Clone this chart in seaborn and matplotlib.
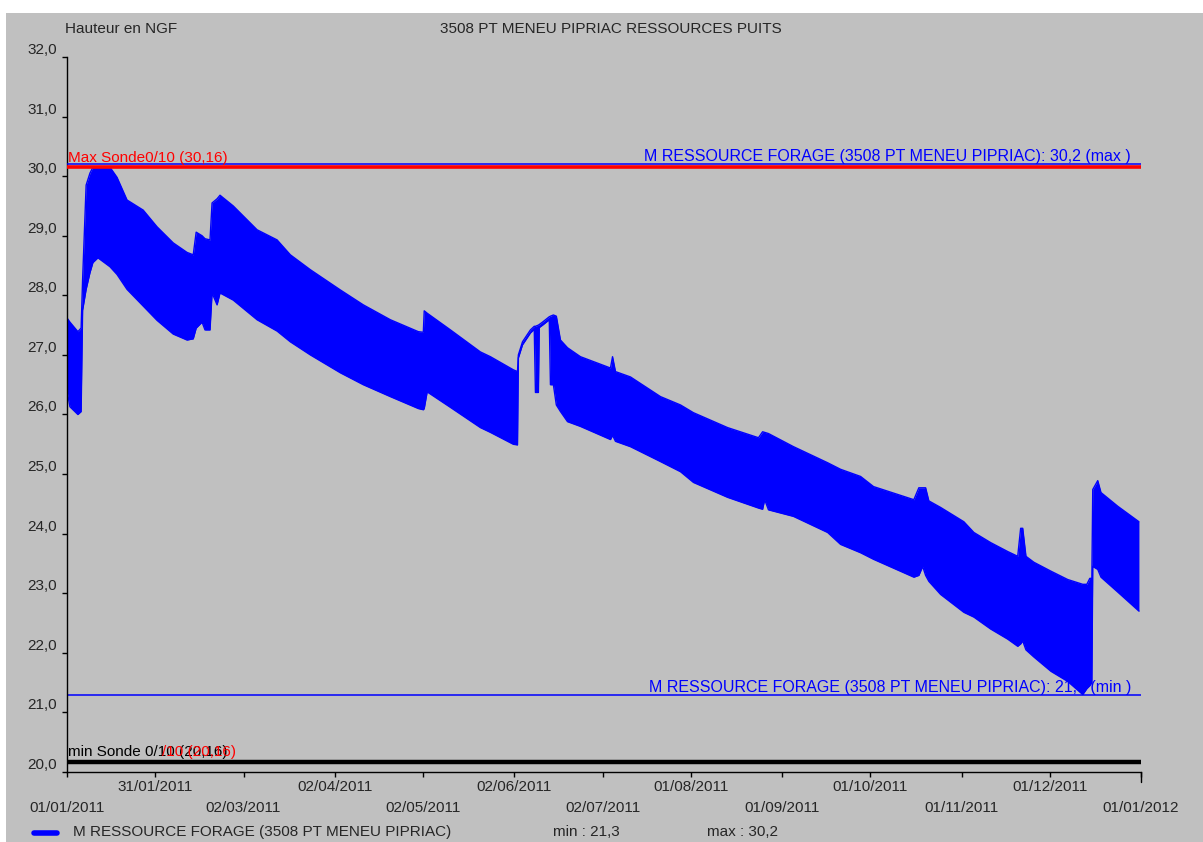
import pandas as pd
import matplotlib
matplotlib.use("Agg")
import matplotlib.pyplot as plt
import matplotlib.dates as mdates
from matplotlib.lines import Line2D
from matplotlib.patches import Rectangle
from matplotlib.transforms import blended_transform_factory
import seaborn as sns

# Envelope of the daily oscillation
# (days since 01/01/2011, water level in m NGF)
day_offset = [0.0, 1.0, 3.7, 4.8, 5.3, 6.5, 7.8, 8.8, 10.5, 14.6,
              17.0, 20.4, 25.9, 30.6, 36.1, 40.8, 42.9, 43.9, 45.9, 46.9,
              48.6, 49.3, 51.0, 52.0, 56.5, 64.6, 71.4, 75.9, 82.7, 92.9,
              100.7, 109.9, 119.4, 121.1, 121.4, 122.4, 130.3, 140.5, 143.9, 151.7,
              153.1, 153.4, 154.8, 157.5, 158.8, 159.2, 160.2, 160.5, 161.6, 163.9,
              164.3, 165.3, 166.3, 167.7, 170.1, 174.5, 184.7, 185.4, 186.4, 191.5,
              201.7, 208.5, 212.9, 224.5, 235.0, 236.4, 237.1, 238.4, 246.9, 258.5,
              262.9, 269.7, 274.1, 287.8, 289.5, 290.8, 291.8, 292.9, 296.9, 304.8,
              308.2, 313.9, 319.7, 323.1, 324.1, 324.8, 325.9, 328.6, 334.4, 340.1,
              345.2, 346.6, 347.6, 348.3, 348.6, 350.3, 351.4, 357.1, 364.3]
upper_level = [27.62, 27.55, 27.39, 27.45, 28.26, 29.85, 30.05, 30.15, 30.15, 30.15,
               29.98, 29.60, 29.43, 29.15, 28.88, 28.72, 28.68, 29.06, 29.00, 28.95,
               28.93, 29.55, 29.62, 29.68, 29.50, 29.10, 28.93, 28.68, 28.43, 28.09,
               27.84, 27.59, 27.39, 27.38, 27.74, 27.70, 27.42, 27.05, 26.97, 26.75,
               26.72, 27.00, 27.22, 27.42, 27.48, 27.48, 27.50, 27.51, 27.55, 27.64,
               27.65, 27.67, 27.65, 27.25, 27.12, 26.97, 26.78, 26.97, 26.72, 26.63,
               26.30, 26.16, 26.03, 25.78, 25.61, 25.71, 25.70, 25.68, 25.46, 25.19,
               25.08, 24.96, 24.79, 24.57, 24.77, 24.77, 24.77, 24.55, 24.44, 24.20,
               24.02, 23.85, 23.70, 23.62, 24.09, 24.09, 23.62, 23.52, 23.37, 23.23,
               23.15, 23.15, 23.25, 23.25, 24.74, 24.89, 24.69, 24.46, 24.20]
lower_level = [26.40, 26.13, 26.00, 26.05, 27.75, 28.10, 28.38, 28.55, 28.63, 28.48,
               28.35, 28.10, 27.82, 27.58, 27.35, 27.25, 27.27, 27.45, 27.55, 27.42,
               27.42, 28.04, 27.84, 28.04, 27.92, 27.59, 27.40, 27.22, 27.00, 26.70,
               26.50, 26.30, 26.10, 26.08, 26.10, 26.38, 26.12, 25.78, 25.70, 25.50,
               25.49, 26.95, 27.17, 27.37, 27.43, 26.37, 26.37, 27.46, 27.50, 27.59,
               26.50, 26.50, 26.16, 26.05, 25.88, 25.80, 25.58, 25.65, 25.55, 25.46,
               25.21, 25.04, 24.86, 24.61, 24.43, 24.41, 24.57, 24.40, 24.29, 24.02,
               23.82, 23.68, 23.57, 23.27, 23.30, 23.45, 23.30, 23.20, 22.98, 22.68,
               22.60, 22.40, 22.23, 22.11, 22.15, 22.20, 22.05, 21.93, 21.69, 21.52,
               21.30, 21.40, 21.45, 21.50, 23.45, 23.40, 23.27, 23.02, 22.70]

series_name = "M RESSOURCE FORAGE (3508 PT MENEU PIPRIAC)"
chart_title = "3508 PT MENEU PIPRIAC RESSOURCES PUITS"
series_max = 30.2
series_min = 21.3
sonde_max = 30.16
sonde_min = 20.16

y_ticks = [20, 21, 22, 23, 24, 25, 26, 27, 28, 29, 30, 31, 32]
y_tick_labels = ["20,0", "21,0", "22,0", "23,0", "24,0", "25,0", "26,0",
                 "27,0", "28,0", "29,0", "30,0", "31,0", "32,0"]
tick_dates = ["2011-01-01", "2011-01-31", "2011-03-02", "2011-04-02", "2011-05-02",
              "2011-06-02", "2011-07-02", "2011-08-01", "2011-09-01", "2011-10-01",
              "2011-11-01", "2011-12-01", "2012-01-01"]
tick_labels = ["01/01/2011", "31/01/2011", "02/03/2011", "02/04/2011", "02/05/2011",
               "02/06/2011", "02/07/2011", "01/08/2011", "01/09/2011", "01/10/2011",
               "01/11/2011", "01/12/2011", "01/01/2012"]


def fr(v):
    return f"{v:g}".replace(".", ",")


df = pd.DataFrame({
    "date": pd.Timestamp("2011-01-01") + pd.to_timedelta(day_offset, unit="D"),
    "upper": upper_level,
    "lower": lower_level,
})

sns.set_style("white")
plt.rcParams["font.family"] = ["Liberation Sans", "DejaVu Sans"]
plt.rcParams["font.size"] = 11

W, H = 1203, 842
gray = "#c0c0c0"
blue = "#0000ff"
red = "#ff0000"

fig = plt.figure(figsize=(W / 100, H / 100), dpi=100, facecolor=gray)
fig.add_artist(Rectangle((0, 1 - 13 / H), 1, 13 / H, transform=fig.transFigure,
                         facecolor="white", edgecolor="none", zorder=-5))
fig.add_artist(Rectangle((0, 0), 6 / W, 1, transform=fig.transFigure,
                         facecolor="white", edgecolor="none", zorder=-5))

ax = fig.add_axes([67 / W, 1 - 772 / H, (1141 - 67) / W, (772 - 57) / H])
ax.set_facecolor("none")

# the band of daily oscillations
ax.fill_between(df["date"], df["lower"], df["upper"], color=blue, lw=0, zorder=2)
sns.lineplot(data=df, x="date", y="upper", color=blue, lw=1, ax=ax, zorder=2)
sns.lineplot(data=df, x="date", y="lower", color=blue, lw=1, ax=ax, zorder=2)

# reference lines
ax.axhline(sonde_max, color=red, lw=2.6, zorder=3)
ax.axhline(series_max, color=blue, lw=1.1, zorder=3)
ax.axhline(series_min, color=blue, lw=1.1, zorder=1)
ax.axhline(sonde_min, color="black", lw=3.2, zorder=3)

x_start = mdates.date2num(pd.Timestamp(tick_dates[0]))
x_end = mdates.date2num(pd.Timestamp(tick_dates[-1]))
ax.set_xlim(x_start, x_end)
ax.set_ylim(20, 32)
ax.set_xlabel("")
ax.set_ylabel("")

# longer end mark on the right of the time axis
ax.axvline(x_end, ymin=-0.014, ymax=0, color="black", lw=1, clip_on=False)

for side in ["top", "right"]:
    ax.spines[side].set_visible(False)
for side in ["left", "bottom"]:
    ax.spines[side].set_color("black")
    ax.spines[side].set_linewidth(1)

ax.set_yticks(y_ticks)
ax.set_yticklabels(y_tick_labels, va="bottom")
ax.tick_params(axis="y", direction="out", length=3.6, width=1, color="black",
               pad=3.5, labelsize=11, left=True)

tick_num = mdates.date2num(pd.to_datetime(tick_dates))
ax.set_xticks(tick_num[1::2])
ax.set_xticklabels(tick_labels[1::2])
ax.set_xticks(tick_num[0::2], minor=True)
ax.set_xticklabels(tick_labels[0::2], minor=True)
ax.tick_params(axis="x", which="both", direction="out", length=3.6, width=1,
               color="black", labelsize=11, bottom=True)
ax.tick_params(axis="x", which="major", pad=2)
ax.tick_params(axis="x", which="minor", pad=17.5)

# labels on the reference lines
trans = blended_transform_factory(ax.transAxes, ax.transData)
ax.annotate("Max Sonde0/10 (30,16)", xy=(0.001, sonde_max), xycoords=trans,
            xytext=(0, 1), textcoords="offset points", color=red, va="bottom",
            ha="left", fontsize=11, zorder=4)
ax.annotate(f"{series_name}: {fr(series_max)} (max )", xy=(0.9907, series_max),
            xycoords=trans, xytext=(0, 0), textcoords="offset points", color=blue,
            va="bottom", ha="right", fontsize=11.5, zorder=4)
ax.annotate(f"{series_name}: {fr(series_min)} (min )", xy=(0.9907, series_min),
            xycoords=trans, xytext=(0, 0), textcoords="offset points", color=blue,
            va="bottom", ha="right", fontsize=11.5, zorder=1)
ax.annotate("min Sonde 0/10 (20,16)", xy=(0.001, sonde_min), xycoords=trans,
            xytext=(0, 2.5), textcoords="offset points", color="black",
            va="bottom", ha="left", fontsize=11, zorder=4)
ax.annotate("/10 (20,16)", xy=(0.0885, sonde_min), xycoords=trans,
            xytext=(0, 2.5), textcoords="offset points", color=red,
            va="bottom", ha="left", fontsize=11, zorder=4)

# header
fig.text(65 / W, 1 - 29 / H, "Hauteur en NGF", ha="left", va="center", fontsize=11)
fig.text(611 / W, 1 - 29 / H, chart_title, ha="center", va="center", fontsize=11)

# bottom legend
fig.add_artist(Line2D([34 / W, 57 / W], [1 - 833 / H, 1 - 833 / H], color=blue,
                      lw=4, transform=fig.transFigure))
fig.text(73 / W, 1 - 832 / H, series_name, ha="left", va="center", fontsize=11)
fig.text(553 / W, 1 - 832 / H, f"min : {fr(series_min)}", ha="left", va="center",
         fontsize=11)
fig.text(707 / W, 1 - 832 / H, f"max : {fr(series_max)}", ha="left", va="center",
         fontsize=11)

fig.savefig("out.png", dpi=100, facecolor=fig.get_facecolor())
